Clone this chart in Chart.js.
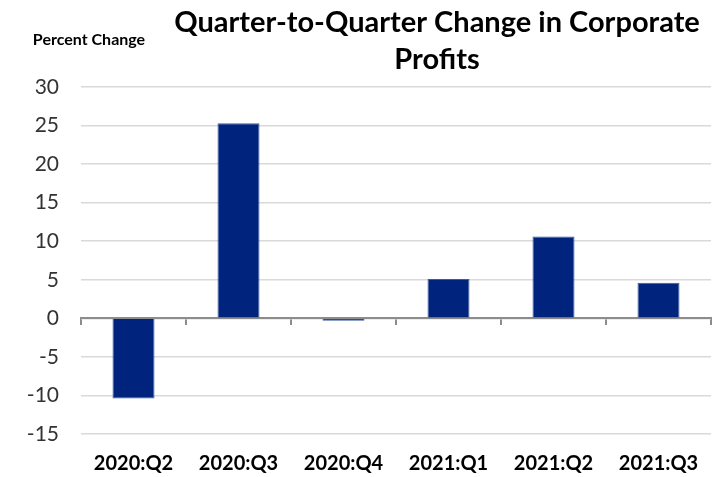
<!DOCTYPE html>
<html>
<head>
<meta charset="utf-8">
<script src="https://cdn.jsdelivr.net/npm/chart.js@4/dist/chart.umd.min.js"></script>
<style>
  html, body { margin: 0; padding: 0; background: #fff; }
  #wrap { width: 717px; height: 477px; position: relative; }
</style>
</head>
<body>
<div id="wrap"><canvas id="chart"></canvas></div>
<script>
const quarters = ['2020:Q2', '2020:Q3', '2020:Q4', '2021:Q1', '2021:Q2', '2021:Q3']
const profitChange = [-10.4, 25.3, -0.3, 5.1, 10.6, 4.6]
const yMin = -15
const yMax = 30
const yStep = 5
const titleLines = ['Quarter-to-Quarter Change in Corporate', 'Profits']
const unitLabel = 'Percent Change'

const fontFamily = 'Lato, "Open Sans", sans-serif'

// title + unit label, drawn on the canvas above the plot
const headerText = {
  id: 'headerText',
  afterDraw(chart) {
    const ctx = chart.ctx
    ctx.save()
    ctx.fillStyle = '#000'
    ctx.textBaseline = 'middle'
    ctx.textAlign = 'center'
    ctx.font = 'bold 29px ' + fontFamily
    ctx.fillText(titleLines[0], 437, 23)
    ctx.fillText(titleLines[1], 437, 60)
    ctx.font = 'bold 16px ' + fontFamily
    ctx.fillText(unitLabel, 89, 40)
    ctx.restore()
  }
}

const ctx = document.getElementById('chart').getContext('2d')

let chart = new Chart(ctx, {
  type: 'bar',
  data: {
    labels: quarters,
    datasets: [{
      label: unitLabel,
      data: profitChange,
      backgroundColor: '#00247d',
      borderColor: '#3a5aa8',
      borderWidth: 1,
      barPercentage: 0.4,
      categoryPercentage: 1
    }]
  },
  options: {
    responsive: true,
    maintainAspectRatio: false,
    animation: false,
    layout: { padding: { top: 87, right: 6, bottom: 0, left: 0 } },
    plugins: {
      legend: { display: false },
      title: { display: false },
      tooltip: { enabled: false }
    },
    scales: {
      x: {
        grid: { display: false },
        border: { display: false },
        ticks: {
          color: '#000',
          font: { family: fontFamily, size: 20, weight: 'bold' },
          padding: 10,
          maxRotation: 0
        },
        afterFit: (scale) => { scale.height = 43 }
      },
      x2: {
        type: 'category',
        labels: quarters,
        position: { y: 0 },
        offset: true,
        ticks: { display: false },
        grid: {
          offset: true,
          drawOnChartArea: false,
          drawTicks: true,
          tickLength: 6,
          color: '#8c8c8c',
          lineWidth: 2
        },
        border: { display: true, color: '#8c8c8c', width: 2 }
      },
      y: {
        min: yMin,
        max: yMax,
        ticks: {
          stepSize: yStep,
          color: '#333',
          font: { family: fontFamily, size: 21 },
          padding: 22
        },
        grid: {
          color: '#d9d9d9',
          lineWidth: 1.5,
          drawTicks: false
        },
        border: { display: false },
        afterFit: (scale) => { scale.width = 81 }
      }
    }
  },
  plugins: [headerText]
})
</script>
</body>
</html>
